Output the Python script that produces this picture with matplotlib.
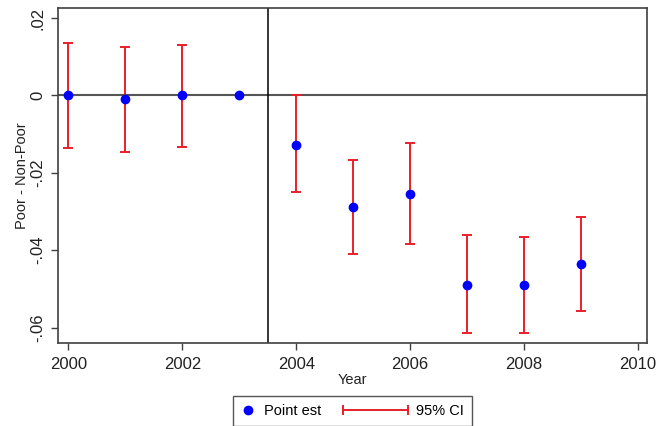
import matplotlib.pyplot as plt
from matplotlib.container import ErrorbarContainer
from matplotlib.legend_handler import HandlerBase
from matplotlib.lines import Line2D
import numpy as np

plt.rcParams["font.family"] = ["Liberation Sans", "DejaVu Sans"]

# Point estimates and 95% CI (Poor - Non-Poor)
years = [2000, 2001, 2002, 2003, 2004, 2005, 2006, 2007, 2008, 2009]
point_est = [0.0, -0.001, 0.0, 0.0, -0.0127, -0.0288, -0.0255, -0.0489, -0.0491, -0.0436]
ci_low = [-0.0135, -0.0145, -0.0133, np.nan, -0.0249, -0.0411, -0.0384, -0.0614, -0.0614, -0.0557]
ci_high = [0.0135, 0.0125, 0.013, np.nan, 0.0, -0.0166, -0.0122, -0.0361, -0.0367, -0.0315]
policy_year = 2003.5

yticks = [0.02, 0.0, -0.02, -0.04, -0.06]
ytick_labels = [".02", "0", "-.02", "-.04", "-.06"]
xticks = [2000, 2002, 2004, 2006, 2008, 2010]

RED = "#e8202a"
BLUE = "#0000ff"
GRAY = "#404040"


class HandlerCI(HandlerBase):
    # horizontal |----| bar, drawn leftward from the handle's right edge
    def create_artists(self, legend, orig_handle, xdescent, ydescent,
                       width, height, fontsize, trans):
        x1 = -xdescent + width
        x0 = x1 - 4.45 * fontsize
        y = -ydescent + height / 2
        line = Line2D([x0, x1], [y, y], color=RED, lw=1.4,
                      marker="|", markersize=7, markeredgewidth=1.4)
        line.set_transform(trans)
        return [line]


fig = plt.figure(figsize=(6.59, 4.26), dpi=100)
ax = fig.add_axes([0.0874, 0.1955, 0.8944, 0.7857])

ax.axhline(0, color="#555555", lw=1.5, zorder=1)
ax.axvline(policy_year, color="black", lw=1.1, zorder=1)

yrs = np.array(years, dtype=float)
lo = np.array(ci_low)
hi = np.array(ci_high)
mid = (lo + hi) / 2
ok = ~np.isnan(lo)
ci = ax.errorbar(yrs[ok], mid[ok], yerr=(hi[ok] - lo[ok]) / 2, fmt="none",
                 ecolor=RED, elinewidth=1.4, capsize=3.3, capthick=1.4, zorder=2)
pts, = ax.plot(years, point_est, "o", color=BLUE, markersize=6, zorder=3,
               linestyle="none")

ax.set_xlim(1999.81, 2010.16)
ax.set_ylim(-0.0639, 0.0226)
ax.set_xticks(xticks)
ax.set_yticks(yticks)
ax.set_yticklabels(ytick_labels, rotation=90, va="center")
ax.tick_params(axis="both", labelsize=12, length=5, width=1, color=GRAY,
               pad=5, labelcolor="#222222")
ax.tick_params(axis="y", pad=4)

for s in ax.spines.values():
    s.set_color(GRAY)
    s.set_linewidth(1.2)

ax.set_xlabel("Year", fontsize=10.5, labelpad=1, color="#222222")
ax.set_ylabel("Poor - Non-Poor", fontsize=10.5, labelpad=1, color="#222222")

fig.legend([pts, ci], ["Point est", "95% CI"],
           handler_map={ErrorbarContainer: HandlerCI()},
           loc="upper center", bbox_to_anchor=(0.535, 1 - 396 / 426),
           borderaxespad=0,
           ncol=2, fontsize=10.5, handlelength=1.0, handletextpad=0.6,
           columnspacing=4.9, borderpad=0.55, fancybox=False,
           edgecolor="#555555", framealpha=1)

fig.savefig("out.png", dpi=100)
